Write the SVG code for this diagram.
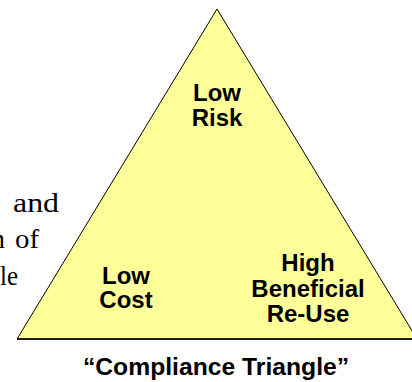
<svg xmlns="http://www.w3.org/2000/svg" width="412" height="382" viewBox="0 0 412 382">
  <style>
    .label { font-family: "Liberation Sans", Arial, sans-serif; font-weight: bold; font-size: 24px; fill: #000; text-anchor: middle; }
    .caption { font-size: 24.7px; }
    .body { font-family: "Liberation Serif", "Times New Roman", serif; font-size: 28px; fill: #000; }
  </style>
  <rect width="412" height="382" fill="#ffffff"/>

  <!-- fragments of the surrounding page text -->
  <g id="page-text" class="body">
    <text x="13" y="212" textLength="46" lengthAdjust="spacingAndGlyphs">and</text>
    <text x="-9" y="248">n</text>
    <text x="15" y="248" textLength="24" lengthAdjust="spacingAndGlyphs">of</text>
    <text x="0" y="285" textLength="18" lengthAdjust="spacingAndGlyphs">le</text>
  </g>

  <!-- the triangle -->
  <g id="triangle">
    <polygon points="217,9 17,339 417,339" fill="#FFFF99" stroke="#000" stroke-width="1"/>
    <line x1="17" y1="339" x2="412" y2="339" stroke="#000" stroke-width="1.5"/>
  </g>

  <g id="corner-top">
    <text class="label" x="217" y="101">Low</text>
    <text class="label" x="217" y="126">Risk</text>
  </g>

  <g id="corner-left">
    <text class="label" x="126" y="284">Low</text>
    <text class="label" x="126" y="308">Cost</text>
  </g>

  <g id="corner-right">
    <text class="label" x="308" y="271">High</text>
    <text class="label" x="308" y="297">Beneficial</text>
    <text class="label" x="308" y="322">Re-Use</text>
  </g>

  <g id="caption">
    <text class="label caption" x="216" y="375">“Compliance Triangle”</text>
  </g>
</svg>
